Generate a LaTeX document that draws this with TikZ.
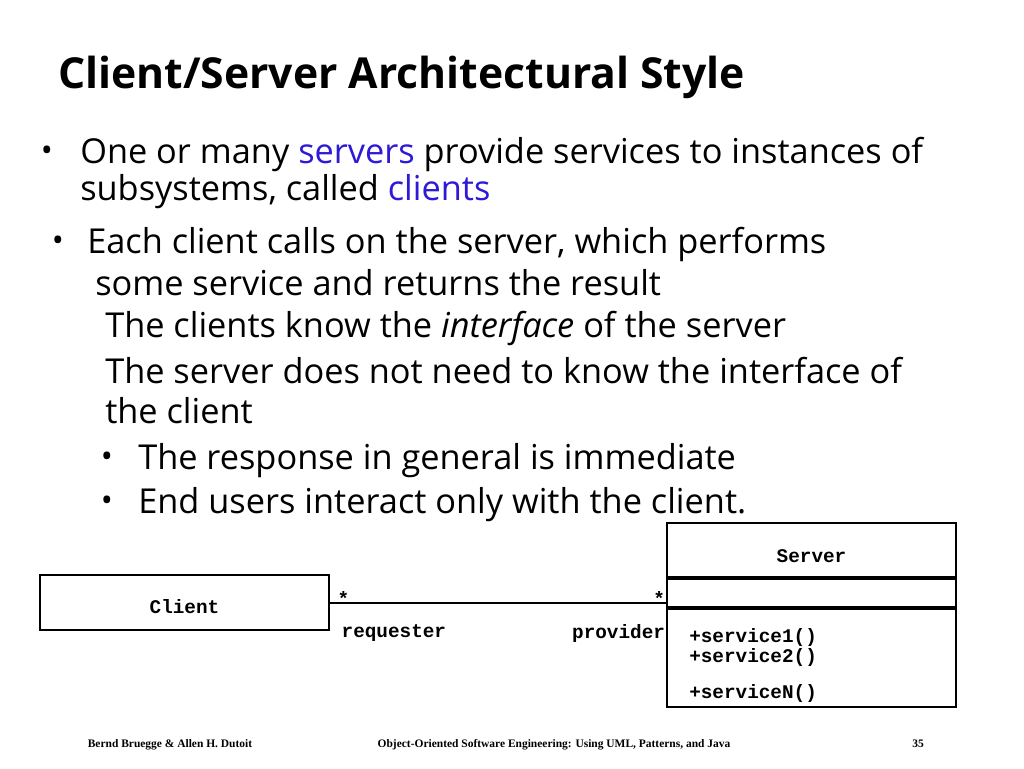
\documentclass[tikz,border=0pt]{standalone}
\usepackage{fontspec}
\setmainfont{Open Sans}
\setmonofont{Liberation Mono}
\newfontfamily\footfont{Liberation Serif}
\usetikzlibrary{positioning}

\definecolor{keyblue}{RGB}{45,25,215}

\begin{document}
\begin{tikzpicture}[x=0.75pt,y=-0.75pt]

\tikzset{
title/.style={anchor=base west,inner sep=0pt,font=\fontsize{32}{36}\bfseries\selectfont},
line/.style={anchor=base west,inner sep=0pt,font=\fontsize{25.75}{28}\selectfont},
dot/.style={anchor=base,inner sep=0pt,font=\fontsize{24}{28}\selectfont},
cls/.style={draw,line width=1.5pt,minimum width=216.75pt,inner sep=0pt,font=\fontsize{14.5}{16}\ttfamily\bfseries\selectfont},
mono/.style={inner sep=0pt,font=\fontsize{14.5}{16}\ttfamily\bfseries\selectfont},
assoc/.style={line width=1.5pt},
foot/.style={anchor=base,inner sep=0pt,font=\fontsize{8.6}{10}\footfont\bfseries\selectfont}
}

\useasboundingbox[fill=white] (0,0) rectangle (1024,768);

% Title
\node[title] (ttl) at (58,88) {Client/Server Architectural Style};

% Bullets
\node[dot] (b1) at (47,161) {•};
\node[line] (l1) at (80,163) {One or many \textcolor{keyblue}{servers} provide services to instances of};
\node[line] (l2) at (80,200) {subsystems, called \textcolor{keyblue}{clients}};
\node[dot] (b2) at (58,251) {•};
\node[line] (l3) at (87,253) {Each client calls on the server, which performs};
\node[line] (l4) at (95,295) {some service and returns the result};
\node[line] (l5) at (105,337) {The clients know the \textit{interface} of the server};
\node[line] (l6) at (105,383) {The server does not need to know the interface of};
\node[line] (l7) at (105,423) {the client};
\node[dot] (b3) at (107,467) {•};
\node[line] (l8) at (138,469) {The response in general is immediate};
\node[dot] (b4) at (107,511) {•};
\node[line] (l9) at (138,513) {End users interact only with the client.};

% Classes
\node[cls,minimum height=41.25pt,text height=16.5pt,text depth=0pt] (client) at (184.5,602.5) {Client};
\node[cls,minimum height=40.5pt,text height=18pt,text depth=0pt] (srvname) at (811.5,550) {Server};
\node[cls,minimum height=21pt,below=0pt of srvname] (srvattr) {};
\node[cls,minimum height=73.5pt,below=0pt of srvattr] (srvops) {};
\node[mono,anchor=north west,align=left] (ops) at (689,628)
  {+service1()\\[-0.5pt]+service2()\\[11pt]+serviceN()};

% Association
\draw[assoc] (client.east) -- (client.east -| srvattr.west)
  node[pos=0,mono,anchor=south west,xshift=5pt,yshift=-3pt] (m1) {*}
  node[pos=0,mono,anchor=north west,xshift=8pt,yshift=-16pt] (r1) {requester}
  node[pos=1,mono,anchor=south east,xshift=0pt,yshift=-3pt] (m2) {*}
  node[pos=1,mono,anchor=north east,xshift=0pt,yshift=-16pt] (r2) {provider};

% Footer
\node[foot] (f1) at (170,747) {Bernd Bruegge \& Allen H. Dutoit};
\node[foot] (f2) at (554,747) {Object-Oriented Software Engineering: Using UML, Patterns, and Java};
\node[foot] (f3) at (918,747) {35};

\end{tikzpicture}
\end{document}
